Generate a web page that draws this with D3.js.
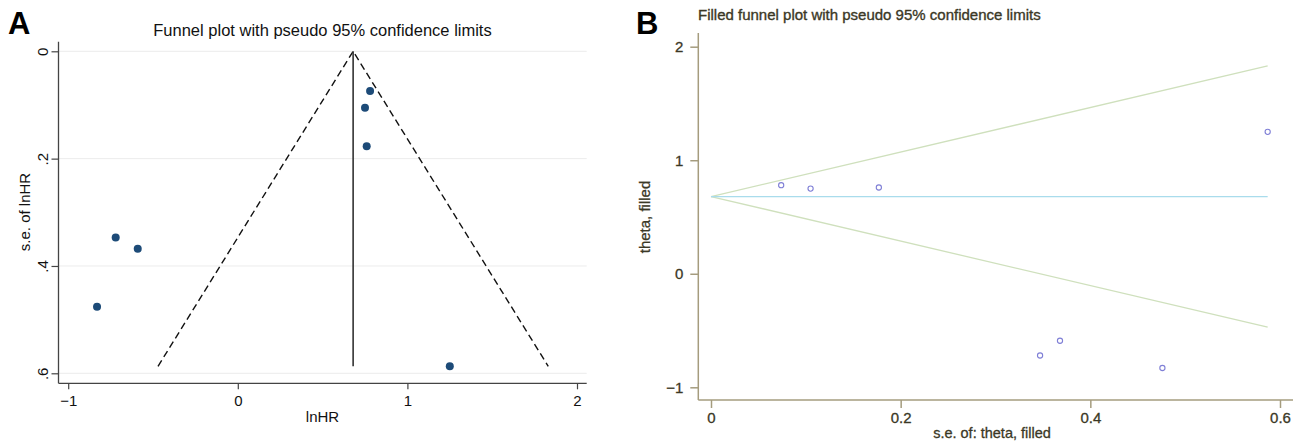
<!DOCTYPE html>
<html><head><meta charset="utf-8">
<script src="https://cdn.jsdelivr.net/npm/d3@7"></script>
<style>
body{margin:0;background:#fff;}
svg{display:block;font-family:"Liberation Sans",Arial,sans-serif;}
</style></head>
<body><svg id="c" width="1294" height="441"></svg>
<script>
// Study data (log hazard ratio and its standard error)
const theta = [0.78, 0.75, 0.76, -0.72, -0.59, -0.83, 1.25];
const se    = [0.074, 0.105, 0.177, 0.347, 0.368, 0.476, 0.587];
const pooled = 0.68;
const seMax = 0.587;
// Tick values and labels
const aXTicks = [-1, 0, 1, 2];
const aYTicks = [0, 0.2, 0.4, 0.6];
const aYTickLabels = ["0", ".2", ".4", ".6"];
const bXTicks = [0, 0.2, 0.4, 0.6];
const bXTickLabels = ["0", "0.2", "0.4", "0.6"];
const bYTicks = [-1, 0, 1, 2];

const svg = d3.select("#c");
const pts = theta.map((t, i) => ({t, s: se[i]}));

// ---------- Panel A ----------
const ax = d3.scaleLinear().domain([-1, 2]).range([68.2, 577]);
const ay = d3.scaleLinear().domain([0, 0.6]).range([51.3, 373.3]);
const aL = 58.5, aR = 586.7, aT = 41.7, aB = 383.3;
const gA = svg.append("g");

gA.append("text").attr("x", 8).attr("y", 34).attr("font-size", 31).attr("font-weight", "bold").attr("fill", "#000").text("A");
gA.append("text").attr("x", 322.5).attr("y", 36).attr("text-anchor", "middle").attr("font-size", 16.5).attr("fill", "#111")
  .text("Funnel plot with pseudo 95% confidence limits");

// gridlines
gA.selectAll("line.grid").data(aYTicks).join("line").attr("class", "grid")
  .attr("x1", aL).attr("x2", aR).attr("y1", d => ay(d)).attr("y2", d => ay(d))
  .attr("stroke", "#ececec").attr("stroke-width", 1);

// axes
const axA = d3.axisBottom(ax).tickValues(aXTicks).tickSize(6).tickPadding(6).tickFormat(d3.format("d"));
const gAx = gA.append("g").attr("transform", `translate(0,${aB})`).call(axA);
gAx.select(".domain").attr("d", `M${aL},0H${aR}`).attr("stroke", "#444").attr("stroke-width", 1.3);
gAx.selectAll(".tick line").attr("stroke", "#444").attr("stroke-width", 1.2);
gAx.selectAll(".tick text").attr("font-size", 15).attr("fill", "#111").attr("font-family", "Liberation Sans, Arial, sans-serif");

const ayA = d3.axisLeft(ay).tickValues(aYTicks).tickSize(7).tickFormat((d, i) => aYTickLabels[i]);
const gAy = gA.append("g").attr("transform", `translate(${aL},0)`).call(ayA);
gAy.select(".domain").attr("d", `M0,${aT}V${aB}`).attr("stroke", "#444").attr("stroke-width", 1.3);
gAy.selectAll(".tick line").attr("stroke", "#444").attr("stroke-width", 1.2);
gAy.selectAll(".tick text").attr("font-size", 15).attr("fill", "#111").attr("font-family", "Liberation Sans, Arial, sans-serif")
  .attr("text-anchor", "middle").attr("x", 0).attr("dy", 0)
  .attr("transform", "translate(-16,0) rotate(-90)").attr("y", 0).attr("dominant-baseline", "central");

gA.append("text").attr("transform", `translate(30,${212}) rotate(-90)`).attr("text-anchor", "middle")
  .attr("font-size", 15).attr("fill", "#111").text("s.e. of lnHR");
gA.append("text").attr("x", 322.5).attr("y", 422).attr("text-anchor", "middle")
  .attr("font-size", 15).attr("fill", "#111").text("lnHR");

// funnel
const funnelA = [[pooled - 1.96 * seMax, seMax], [pooled, 0], [pooled + 1.96 * seMax, seMax]];
gA.append("path").attr("d", d3.line().x(d => ax(d[0])).y(d => ay(d[1]))(funnelA))
  .attr("fill", "none").attr("stroke", "#111").attr("stroke-width", 1.4).attr("stroke-dasharray", "7,4");
gA.append("line").attr("x1", ax(pooled)).attr("x2", ax(pooled)).attr("y1", ay(0)).attr("y2", ay(seMax))
  .attr("stroke", "#333").attr("stroke-width", 1.6);

gA.selectAll("circle").data(pts).join("circle")
  .attr("cx", d => ax(d.t)).attr("cy", d => ay(d.s)).attr("r", 4)
  .attr("fill", "#1d4b78");

// ---------- Panel B ----------
const bx = d3.scaleLinear().domain([0, 0.6]).range([711, 1280]);
const by = d3.scaleLinear().domain([-1, 2]).range([387.3, 46.7]);
const bL = 698.3, bR = 1293, bT = 33, bB = 400;
const axisCol = "#a59c7e", txtCol = "#3b3826";
const gB = svg.append("g");

gB.append("text").attr("x", 636).attr("y", 34).attr("font-size", 31).attr("font-weight", "bold").attr("fill", "#000").text("B");
gB.append("text").attr("x", 698).attr("y", 20).attr("font-size", 15).attr("fill", txtCol)
  .attr("stroke", txtCol).attr("stroke-width", 0.35)
  .text("Filled funnel plot with pseudo 95% confidence limits");

const axB = d3.axisBottom(bx).tickValues(bXTicks).tickSize(8).tickPadding(4).tickFormat((d, i) => bXTickLabels[i]);
const gBx = gB.append("g").attr("transform", `translate(0,${bB})`).call(axB);
gBx.select(".domain").attr("d", `M${bL},0H${bR}`).attr("stroke", axisCol).attr("stroke-width", 1.5);
gBx.selectAll(".tick line").attr("stroke", axisCol).attr("stroke-width", 1.5).attr("y1", 0).attr("y2", 8);
gBx.selectAll(".tick text").attr("font-size", 15).attr("fill", txtCol).attr("stroke", txtCol).attr("stroke-width", 0.3)
  .attr("font-family", "Liberation Sans, Arial, sans-serif");

const ayB = d3.axisLeft(by).tickValues(bYTicks).tickSize(8).tickPadding(7).tickFormat(d3.format("d"));
const gBy = gB.append("g").attr("transform", `translate(${bL},0)`).call(ayB);
gBy.select(".domain").attr("d", `M0,${bT}V${bB}`).attr("stroke", axisCol).attr("stroke-width", 1.5);
gBy.selectAll(".tick line").attr("stroke", axisCol).attr("stroke-width", 1.5);
gBy.selectAll(".tick text").attr("font-size", 15).attr("fill", txtCol).attr("stroke", txtCol).attr("stroke-width", 0.3)
  .attr("font-family", "Liberation Sans, Arial, sans-serif");

gB.append("text").attr("transform", `translate(650,217) rotate(-90)`).attr("text-anchor", "middle")
  .attr("font-size", 15).attr("fill", txtCol).attr("stroke", txtCol).attr("stroke-width", 0.3).text("theta, filled");
gB.append("text").attr("x", 992).attr("y", 438).attr("text-anchor", "middle")
  .attr("font-size", 14.5).attr("fill", txtCol).attr("stroke", txtCol).attr("stroke-width", 0.3).text("s.e. of: theta, filled");

// funnel limits
const upper = [[0, pooled], [seMax, pooled + 1.96 * seMax]];
const lower = [[0, pooled], [seMax, pooled - 1.96 * seMax]];
const lineB = d3.line().x(d => bx(d[0])).y(d => by(d[1]));
gB.append("path").attr("d", lineB(upper)).attr("fill", "none").attr("stroke", "#cfe0bd").attr("stroke-width", 1.3);
gB.append("path").attr("d", lineB(lower)).attr("fill", "none").attr("stroke", "#cfe0bd").attr("stroke-width", 1.3);
gB.append("path").attr("d", lineB([[0, pooled], [seMax, pooled]])).attr("fill", "none").attr("stroke", "#a9dcec").attr("stroke-width", 1.3);

gB.selectAll("circle").data(pts).join("circle")
  .attr("cx", d => bx(d.s)).attr("cy", d => by(d.t)).attr("r", 2.6)
  .attr("fill", "none").attr("stroke", "#7f7fd6").attr("stroke-width", 1.1);
</script></body></html>
